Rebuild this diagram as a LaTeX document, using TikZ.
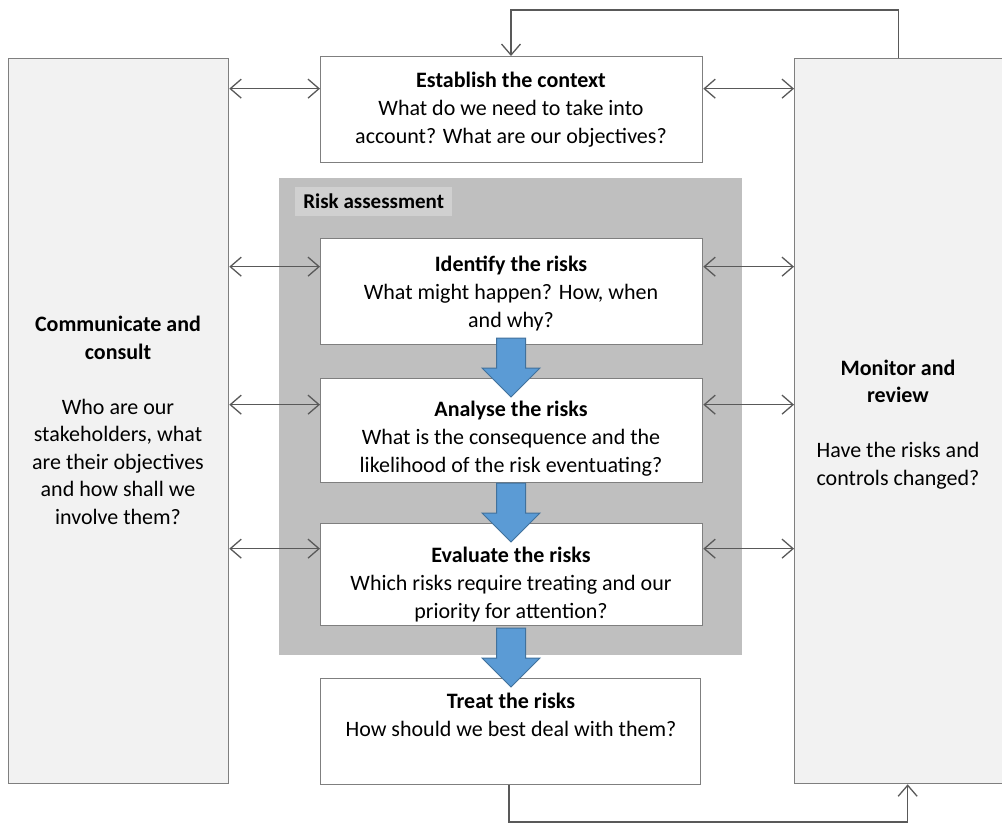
\documentclass[tikz,border=0pt]{standalone}
\usepackage{fontspec}
\setmainfont{Carlito}
\usetikzlibrary{arrows.meta}
\definecolor{edgegray}{HTML}{7F7F7F}
\definecolor{linegray}{HTML}{595959}
\definecolor{panelfill}{HTML}{F2F2F2}
\definecolor{rafill}{HTML}{BFBFBF}
\definecolor{ralabel}{HTML}{D0D0D0}
\definecolor{bluefill}{HTML}{5B9BD5}
\definecolor{blueedge}{HTML}{41719C}
\tikzset{
  panel/.style={draw=edgegray, line width=1.3pt, fill=panelfill, minimum width=220pt, minimum height=725pt, inner sep=0pt},
  stepbox/.style={draw=edgegray, line width=1.3pt, fill=white, minimum width=382pt, minimum height=106pt, inner sep=0pt},
  txt/.style={align=center, font=\fontsize{22}{28}\selectfont, inner sep=0pt},
  ptxt/.style={align=center, font=\fontsize{22}{27.5}\selectfont, inner sep=0pt},
  dbl/.style={linegray, line width=1.3pt, {Straight Barb[length=11pt,width=19pt]}-{Straight Barb[length=11pt,width=19pt]}},
  sgl/.style={linegray, line width=1.3pt, -{Straight Barb[length=11pt,width=19pt]}},
  blockarrow/.style={fill=bluefill, draw=blueedge, line width=1pt, line join=miter}
}
\begin{document}
\begin{tikzpicture}[x=1pt,y=-1pt]
\useasboundingbox (0,0) rectangle (1002,823);
% panels
\node[panel, anchor=north west] (comm) at (8,58) {};
\node[panel, anchor=north west, minimum width=210pt] (mon) at (794,58) {};
% risk assessment area
\node[fill=rafill, minimum width=463pt, minimum height=477pt, inner sep=0pt, anchor=north west] (ra) at (279,178) {};
\node[fill=ralabel, minimum width=157pt, minimum height=29pt, inner sep=0pt, anchor=north west, font=\bfseries\fontsize{21}{24}\selectfont] (ralab) at (295,187) {Risk assessment};
% step boxes
\node[stepbox, anchor=north west] (est) at (320,56) {};
\node[stepbox, anchor=north west] (ident) at (320,238) {};
\node[stepbox, anchor=north west, minimum height=104pt] (anal) at (320,378) {};
\node[stepbox, anchor=north west, minimum height=102pt] (eval) at (320,523) {};
\node[stepbox, anchor=north west, minimum width=380pt] (treat) at (320,678) {};
% texts (anchor=base is the baseline of the last line)
\node[txt, anchor=base] (estt) at (511,143) {\textbf{Establish the context}\\What do we need to take into\\account? What are our objectives?};
\node[txt, anchor=base] (identt) at (511,327) {\textbf{Identify the risks}\\What might happen? How, when\\and why?};
\node[txt, anchor=base] (analt) at (511,472) {\textbf{Analyse the risks}\\What is the consequence and the\\likelihood of the risk eventuating?};
\node[txt, anchor=base] (evalt) at (511,618) {\textbf{Evaluate the risks}\\Which risks require treating and our\\priority for attention?};
\node[txt, anchor=base] (treatt) at (511,736) {\textbf{Treat the risks}\\How should we best deal with them?};
\node[ptxt, anchor=base] (commt) at (118,524) {\textbf{Communicate and}\\\textbf{consult}\\[27.5pt]Who are our\\stakeholders, what\\are their objectives\\and how shall we\\involve them?};
\node[ptxt, anchor=base] (mont) at (898,485) {\textbf{Monitor and}\\\textbf{review}\\[27.5pt]Have the risks and\\controls changed?};
% block arrows
\foreach \yt/\nm in {338/ba1,483/ba2,628/ba3}{
  \draw[blockarrow] (496.5,\yt) -- (525.5,\yt) -- (525.5,\yt+30) -- (540,\yt+30) -- (511,\yt+59) -- (482,\yt+30) -- (496.5,\yt+30) -- cycle;
}
% double arrows
\foreach \b/\dy in {est/21, ident/25, anal/26, eval/26}{
  \coordinate (L\b) at ([yshift=\dy pt]\b.west);
  \coordinate (R\b) at ([yshift=\dy pt]\b.east);
  \draw[dbl] (comm.east |- L\b) -- (L\b);
  \draw[dbl] (R\b) -- (mon.west |- R\b);
}
% loops
\coordinate (topr) at ([xshift=-1pt]mon.north);
\coordinate (topl) at (511,10);
\draw[sgl] (topr) |- (topl) -- (topl |- est.north);
\coordinate (botl) at (509,822);
\coordinate (botr) at ([xshift=8pt]mon.south);
\draw[sgl] (botl |- treat.south) -- (botl) -| (botr);
\end{tikzpicture}
\end{document}
